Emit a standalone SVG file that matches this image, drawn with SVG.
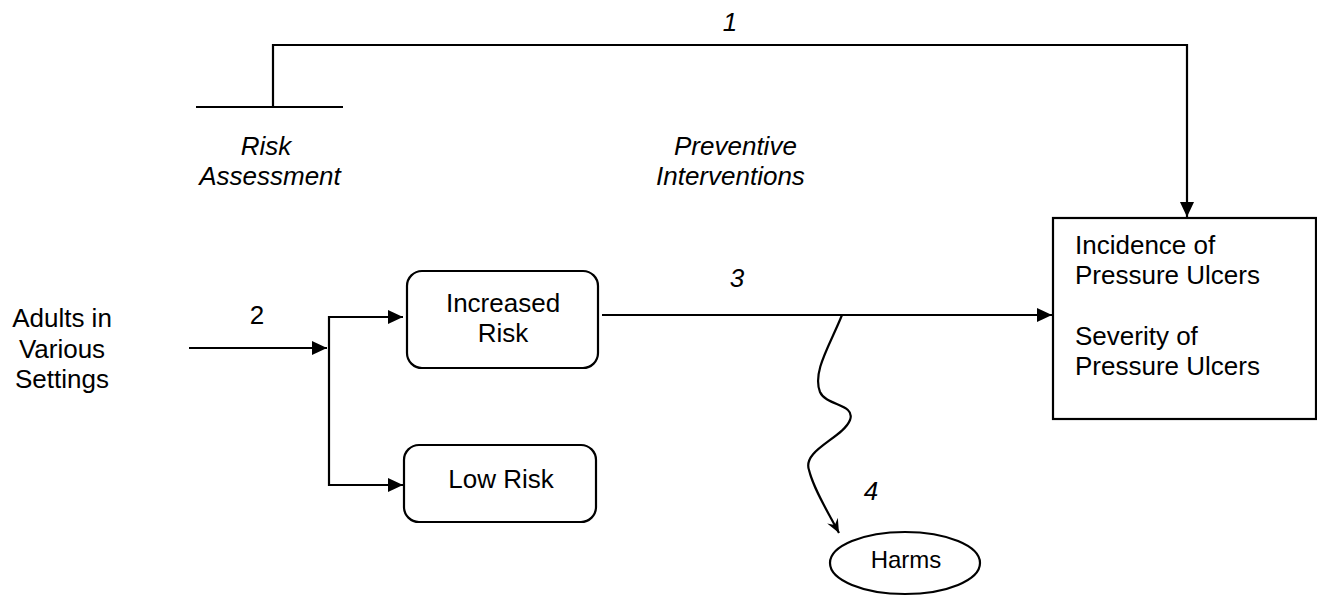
<svg xmlns="http://www.w3.org/2000/svg" width="1317" height="596" viewBox="0 0 1317 596">
<style>
.t{font-family:"Liberation Sans",Arial,sans-serif;font-size:26px;fill:#000}
.i{font-style:italic}
.m{text-anchor:middle}
.ln{fill:none;stroke:#000;stroke-width:2.2}
.bx{fill:#fff;stroke:#000;stroke-width:2.2}
</style>
<defs>
<marker id="ah" viewBox="0 0 15 14" refX="15" refY="7" markerWidth="15" markerHeight="14" markerUnits="userSpaceOnUse" orient="auto">
<path d="M0,0 L15,7 L0,14 Z" fill="#000"/>
</marker>
<marker id="bh" viewBox="0 0 14 12" refX="14" refY="6" markerWidth="14" markerHeight="12" markerUnits="userSpaceOnUse" orient="auto">
<path d="M0,0 L14,6 L0,12 L5,6 Z" fill="#000"/>
</marker>
</defs>
<g id="connectors">
<line class="ln" x1="196" y1="107" x2="343" y2="107"/>
<path class="ln" d="M273,107 V45 H1187 V217" marker-end="url(#ah)"/>
<path class="ln" d="M189,348 H327" marker-end="url(#ah)"/>
<path class="ln" d="M329,316 V486"/>
<path class="ln" d="M328,317 H403" marker-end="url(#ah)"/>
<path class="ln" d="M328,485 H403" marker-end="url(#ah)"/>
<path class="ln" d="M602,315 H1052" marker-end="url(#ah)"/>
<path class="ln" d="M842,315 C830,345 812,372 820,392 C826,406 856,404 850,420 C843,438 802,450 809,470 C814,490 828,512 839,533" marker-end="url(#bh)"/>
<text class="t i m" x="730" y="31">1</text>
<text class="t m" x="257" y="324">2</text>
<text class="t i m" x="737" y="287">3</text>
<text class="t i m" x="871" y="500">4</text>
</g>
<g id="risk-assessment">
<text class="t i m" x="266" y="155">Risk</text>
<text class="t i m" x="270" y="185">Assessment</text>
</g>
<g id="preventive-interventions">
<text class="t i" x="674" y="155">Preventive</text>
<text class="t i" x="656" y="185">Interventions</text>
</g>
<g id="adults">
<text class="t m" x="62" y="327">Adults in</text>
<text class="t m" x="62" y="358">Various</text>
<text class="t m" x="62" y="388">Settings</text>
</g>
<g id="increased-risk">
<rect class="bx" x="407" y="271" width="191" height="97" rx="15"/>
<text class="t m" x="503" y="312">Increased</text>
<text class="t m" x="503" y="342">Risk</text>
</g>
<g id="low-risk">
<rect class="bx" x="404" y="445" width="192" height="77" rx="15"/>
<text class="t m" x="501" y="488">Low Risk</text>
</g>
<g id="outcomes">
<rect class="bx" x="1053" y="218" width="263" height="201"/>
<text class="t" x="1075" y="254">Incidence of</text>
<text class="t" x="1075" y="284">Pressure Ulcers</text>
<text class="t" x="1075" y="345">Severity of</text>
<text class="t" x="1075" y="375">Pressure Ulcers</text>
</g>
<g id="harms">
<ellipse class="bx" cx="905" cy="563" rx="75" ry="31"/>
<text class="t m" x="906" y="568" style="font-size:24px">Harms</text>
</g>
</svg>
